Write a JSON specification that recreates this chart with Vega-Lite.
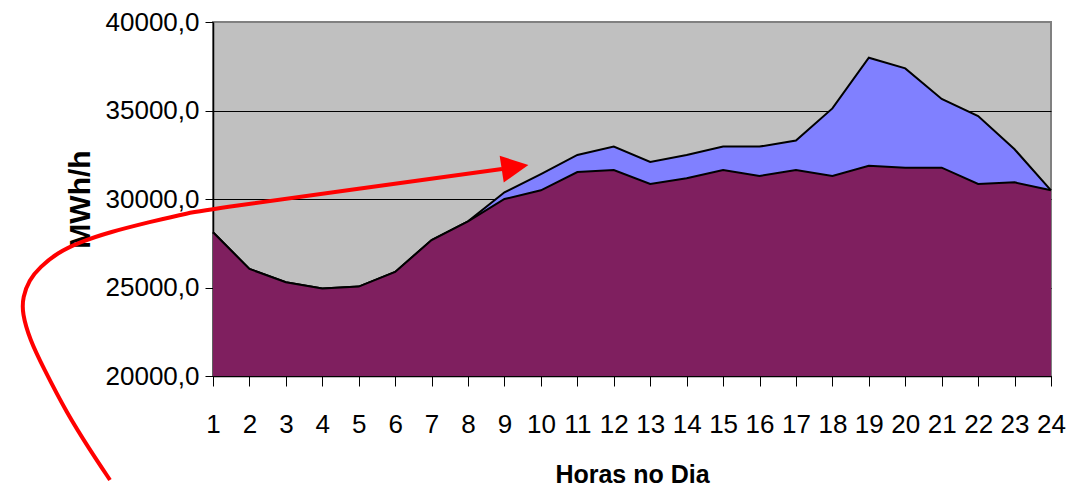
{
  "$schema": "https://vega.github.io/schema/vega-lite/v6.json",
  "width": 838,
  "height": 354,
  "autosize": {"type": "none"},
  "padding": {"left": 213, "top": 22, "right": 32, "bottom": 115},
  "background": "white",
  "config": {
    "view": {"fill": "#C0C0C0", "stroke": "#808080", "strokeWidth": 2},
    "font": "Liberation Sans",
    "axisY": {
      "grid": true,
      "gridWidth": 1,
      "gridOpacity": 1,
      "tickSize": 8,
      "tickColor": "black",
      "domainColor": "black",
      "domainWidth": 1.5,
      "labelFont": "Liberation Sans",
      "labelFontSize": 26,
      "labelColor": "black",
      "labelPadding": 6,
      "titleFont": "Liberation Sans",
      "titleFontSize": 30,
      "titleFontWeight": "bold",
      "titleColor": "black",
      "titlePadding": 10
    }
  },
  "datasets": {
    "load": [
      {"hour": 1, "base": 28120, "total": 28120},
      {"hour": 2, "base": 26050, "total": 26050},
      {"hour": 3, "base": 25300, "total": 25300},
      {"hour": 4, "base": 24950, "total": 24950},
      {"hour": 5, "base": 25050, "total": 25050},
      {"hour": 6, "base": 25880, "total": 25880},
      {"hour": 7, "base": 27680, "total": 27680},
      {"hour": 8, "base": 28740, "total": 28740},
      {"hour": 9, "base": 30000, "total": 30380},
      {"hour": 10, "base": 30490, "total": 31410},
      {"hour": 11, "base": 31520, "total": 32490},
      {"hour": 12, "base": 31640, "total": 32960},
      {"hour": 13, "base": 30850, "total": 32090},
      {"hour": 14, "base": 31170, "total": 32490},
      {"hour": 15, "base": 31640, "total": 32960},
      {"hour": 16, "base": 31300, "total": 32960},
      {"hour": 17, "base": 31640, "total": 33300},
      {"hour": 18, "base": 31300, "total": 35120},
      {"hour": 19, "base": 31880, "total": 37980},
      {"hour": 20, "base": 31770, "total": 37380},
      {"hour": 21, "base": 31770, "total": 35650},
      {"hour": 22, "base": 30850, "total": 34690},
      {"hour": 23, "base": 30940, "total": 32810},
      {"hour": 24, "base": 30490, "total": 30490}
    ],
    "arrow": [
      {"i": 1, "hour": -1.827, "value": 14124},
      {"i": 2, "hour": -2.376, "value": 15819},
      {"i": 3, "hour": -3.015, "value": 17910},
      {"i": 4, "hour": -3.666, "value": 20509},
      {"i": 5, "hour": -4.023, "value": 22034},
      {"i": 6, "hour": -4.24, "value": 23559},
      {"i": 7, "hour": -4.22, "value": 24463},
      {"i": 8, "hour": -4.05, "value": 25424},
      {"i": 9, "hour": -3.748, "value": 26158},
      {"i": 10, "hour": -3.282, "value": 26949},
      {"i": 11, "hour": -2.65, "value": 27571},
      {"i": 12, "hour": -1.827, "value": 28136},
      {"i": 13, "hour": -0.729, "value": 28701},
      {"i": 14, "hour": 0.286, "value": 29209},
      {"i": 15, "hour": 1.192, "value": 29492},
      {"i": 16, "hour": 5.035, "value": 30588},
      {"i": 17, "hour": 8.932, "value": 31695}
    ],
    "head": [
      {"hour": 9.29, "value": 31807}
    ]
  },
  "encoding": {
    "x": {
      "field": "hour",
      "type": "quantitative",
      "scale": {"domain": [1, 24], "nice": false, "zero": false},
      "axis": {
        "values": [1,2,3,4,5,6,7,8,9,10,11,12,13,14,15,16,17,18,19,20,21,22,23,24],
        "grid": false,
        "tickSize": 10,
        "tickColor": "black",
        "domainColor": "black",
        "domainWidth": 1.5,
        "labelFont": "Liberation Sans",
        "labelFontSize": 26,
        "labelColor": "black",
        "labelPadding": 25,
        "labelFlush": false,
        "labelOverlap": false,
        "title": "Horas no Dia",
        "titleFont": "Liberation Sans",
        "titleFontSize": 25,
        "titleFontWeight": "bold",
        "titleColor": "black",
        "titlePadding": 25
      }
    }
  },
  "layer": [
    {
      "data": {"name": "load"},
      "mark": {"type": "area", "color": "#8080FF", "opacity": 1, "line": {"color": "black", "strokeWidth": 2}},
      "encoding": {
        "y": {
          "field": "total",
          "type": "quantitative",
          "scale": {"domain": [20000, 40000], "nice": false, "zero": false},
          "axis": {"title": "MWh/h", "values": [20000, 25000, 30000, 35000, 40000], "gridColor": {"condition": {"test": "datum.value === 40000", "value": "#808080"}, "value": "black"}, "labelExpr": "replace(format(datum.value, '.1f'), '.', ',')"}
        },
        "y2": {"datum": 20000}
      }
    },
    {
      "data": {"name": "load"},
      "mark": {"type": "area", "color": "#7F1F5F", "opacity": 1, "line": {"color": "black", "strokeWidth": 2}},
      "encoding": {
        "y": {
          "field": "base",
          "type": "quantitative",
          "scale": {"domain": [20000, 40000], "nice": false, "zero": false},
          "axis": {"title": "MWh/h", "values": [20000, 25000, 30000, 35000, 40000], "gridColor": {"condition": {"test": "datum.value === 40000", "value": "#808080"}, "value": "black"}, "labelExpr": "replace(format(datum.value, '.1f'), '.', ',')"}
        },
        "y2": {"datum": 20000}
      }
    },
    {
      "data": {"name": "arrow"},
      "mark": {"type": "line", "color": "#FF0000", "strokeWidth": 4, "clip": false, "interpolate": "basis"},
      "encoding": {
        "y": {
          "field": "value",
          "type": "quantitative",
          "scale": {"domain": [20000, 40000], "nice": false, "zero": false},
          "axis": {"title": "MWh/h", "values": [20000, 25000, 30000, 35000, 40000], "gridColor": {"condition": {"test": "datum.value === 40000", "value": "#808080"}, "value": "black"}, "labelExpr": "replace(format(datum.value, '.1f'), '.', ',')"}
        },
        "order": {"field": "i", "type": "quantitative"}
      }
    },
    {
      "data": {"name": "head"},
      "mark": {"type": "point", "shape": "M-1,-1L1,0L-1,1Z", "filled": true, "color": "#FF0000", "opacity": 1, "size": 729, "angle": -8.7, "clip": false},
      "encoding": {
        "y": {
          "field": "value",
          "type": "quantitative",
          "scale": {"domain": [20000, 40000], "nice": false, "zero": false},
          "axis": {"title": "MWh/h", "values": [20000, 25000, 30000, 35000, 40000], "gridColor": {"condition": {"test": "datum.value === 40000", "value": "#808080"}, "value": "black"}, "labelExpr": "replace(format(datum.value, '.1f'), '.', ',')"}
        }
      }
    }
  ]
}
